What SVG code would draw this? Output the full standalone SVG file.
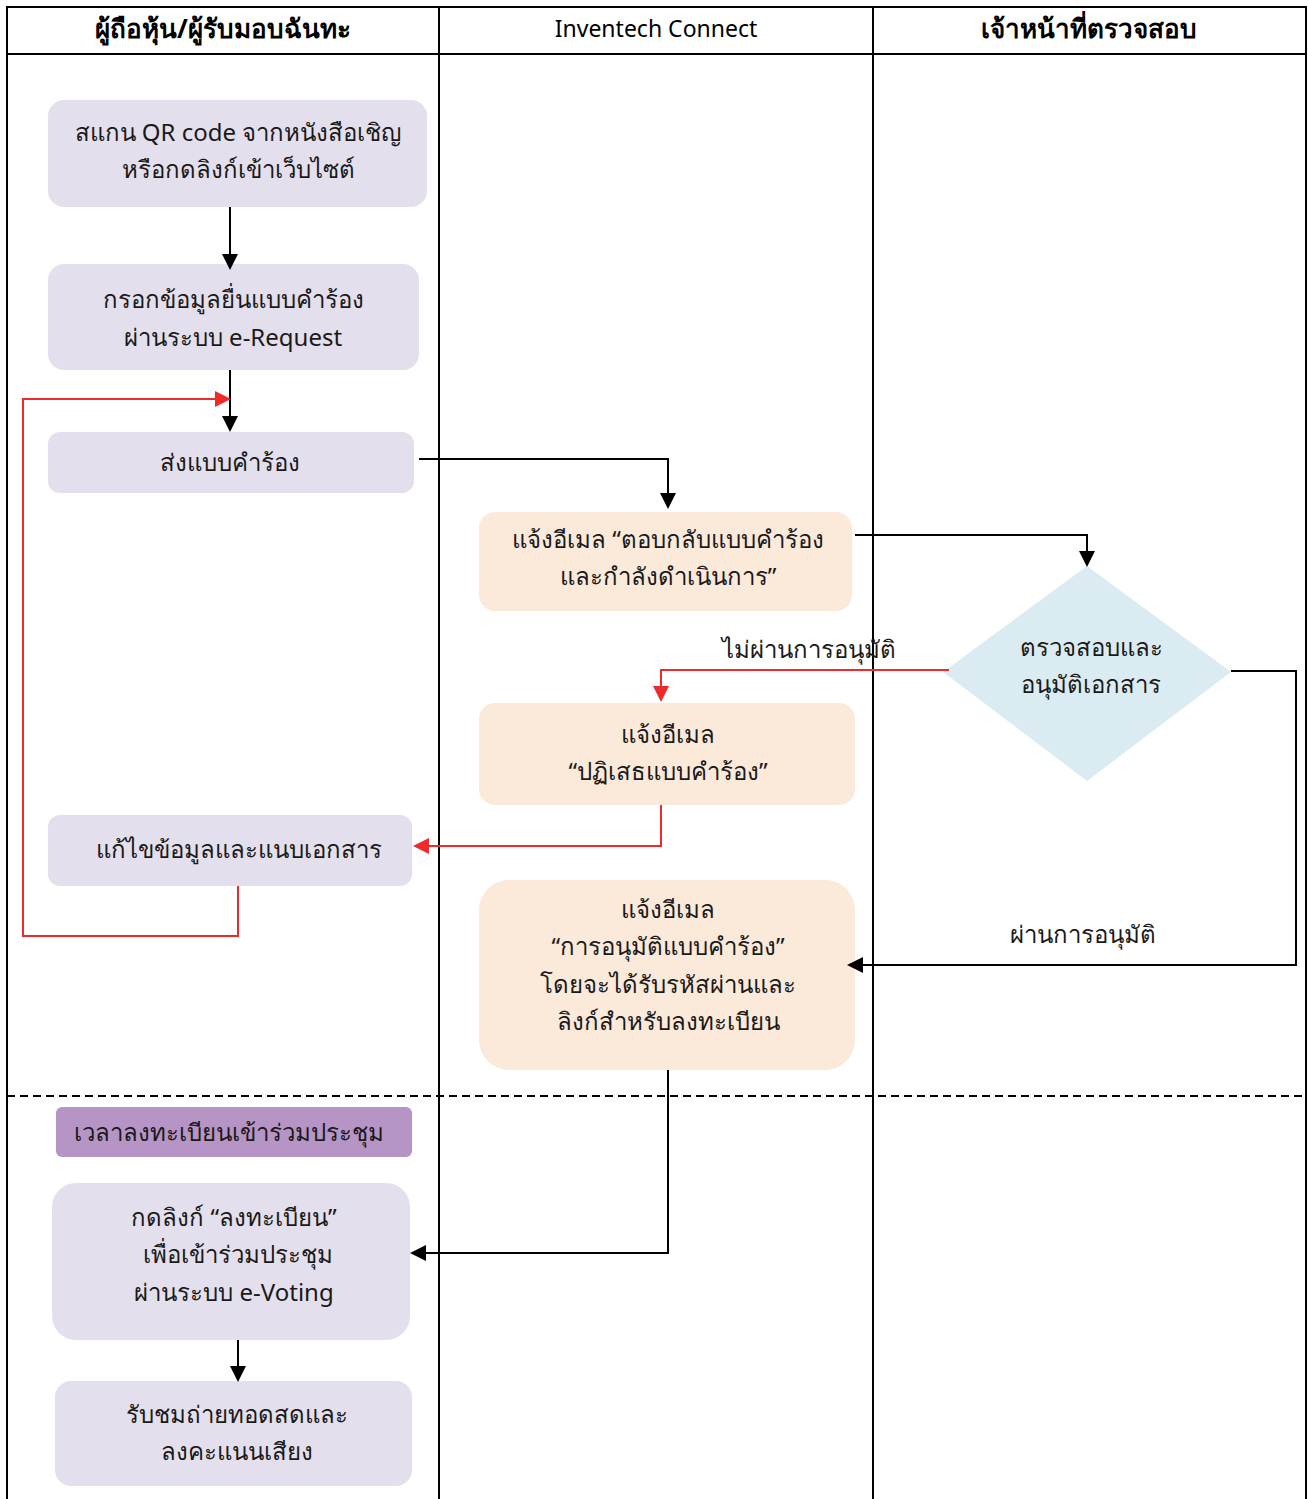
<svg xmlns="http://www.w3.org/2000/svg" width="1308" height="1499" viewBox="0 0 1308 1499">
<style>
text{font-family:"Noto Sans","DejaVu Sans","Liberation Sans",sans-serif;font-size:24px;fill:#1a1a1a;text-anchor:middle;dominant-baseline:middle}
.hd{font-size:26px;font-weight:bold;fill:#000}
.hn{font-size:23px;fill:#000}
.lv{fill:#e4dfec}
.pc{fill:#fbe9da}
.dm{fill:#daecf1}
.pu{fill:#b794c6}
.k{fill:none;stroke:#000;stroke-width:2}
.r{fill:none;stroke:#ee2a2a;stroke-width:2}
.lane{fill:none;stroke:#000;stroke-width:2}
</style>
<defs>
<marker id="ab" markerWidth="16" markerHeight="16" refX="14" refY="8" orient="auto" markerUnits="userSpaceOnUse"><path d="M0,0 L16,8 L0,16 z" fill="#000"/></marker>
<marker id="ar" markerWidth="16" markerHeight="16" refX="14" refY="8" orient="auto" markerUnits="userSpaceOnUse"><path d="M0,0 L16,8 L0,16 z" fill="#ee2a2a"/></marker>
</defs>
<rect width="1308" height="1499" fill="#fff"/>
<g id="lanes">
<rect class="lane" x="7" y="7" width="1299" height="1500"/>
<line class="lane" x1="7" y1="54" x2="1306" y2="54"/>
<line class="lane" x1="439" y1="7" x2="439" y2="1499"/>
<line class="lane" x1="873" y1="7" x2="873" y2="1499"/>
<line x1="7" y1="1096" x2="1306" y2="1096" stroke="#000" stroke-width="2" stroke-dasharray="8,5"/>
<text class="hd" x="223" y="31">ผู้ถือหุ้น/ผู้รับมอบฉันทะ</text>
<text class="hn" x="656" y="31">Inventech Connect</text>
<text class="hd" x="1089" y="31">เจ้าหน้าที่ตรวจสอบ</text>
</g>
<g id="n1"><rect class="lv" x="48" y="100" width="379" height="107" rx="16"/><text x="238" y="135">สแกน QR code จากหนังสือเชิญ</text><text x="238" y="172">หรือกดลิงก์เข้าเว็บไซต์</text></g>
<g id="n2"><rect class="lv" x="48" y="264" width="371" height="106" rx="16"/><text x="233" y="302">กรอกข้อมูลยื่นแบบคำร้อง</text><text x="233" y="340">ผ่านระบบ e-Request</text></g>
<g id="n3"><rect class="lv" x="48" y="432" width="366" height="61" rx="12"/><text x="230" y="465">ส่งแบบคำร้อง</text></g>
<g id="n4"><rect class="lv" x="48" y="815" width="364" height="71" rx="12"/><text x="239" y="852">แก้ไขข้อมูลและแนบเอกสาร</text></g>
<g id="n5"><rect class="pu" x="56" y="1107" width="356" height="50" rx="6"/><text x="229" y="1135">เวลาลงทะเบียนเข้าร่วมประชุม</text></g>
<g id="n6"><rect class="lv" x="52" y="1183" width="358" height="157" rx="24"/><text x="234" y="1220">กดลิงก์ “ลงทะเบียน”</text><text x="238" y="1257">เพื่อเข้าร่วมประชุม</text><text x="234" y="1295">ผ่านระบบ e-Voting</text></g>
<g id="n7"><rect class="lv" x="55" y="1381" width="357" height="105" rx="16"/><text x="237" y="1417">รับชมถ่ายทอดสดและ</text><text x="237" y="1454">ลงคะแนนเสียง</text></g>
<g id="n8"><rect class="pc" x="479" y="512" width="373" height="99" rx="16"/><text x="668" y="542">แจ้งอีเมล “ตอบกลับแบบคำร้อง</text><text x="668" y="579">และกำลังดำเนินการ”</text></g>
<g id="n9"><rect class="pc" x="479" y="703" width="376" height="102" rx="16"/><text x="668" y="737">แจ้งอีเมล</text><text x="668" y="774">“ปฏิเสธแบบคำร้อง”</text></g>
<g id="n10"><rect class="pc" x="479" y="880" width="376" height="190" rx="30"/><text x="668" y="912">แจ้งอีเมล</text><text x="668" y="949">“การอนุมัติแบบคำร้อง”</text><text x="668" y="987">โดยจะได้รับรหัสผ่านและ</text><text x="668" y="1024">ลิงก์สำหรับลงทะเบียน</text></g>
<g id="n11"><polygon class="dm" points="1087,566 1231,672 1087,781 943,672"/><text x="1091" y="650">ตรวจสอบและ</text><text x="1091" y="687">อนุมัติเอกสาร</text></g>
<g id="connectors">
<path class="k" d="M230,207 V268" marker-end="url(#ab)"/>
<path class="k" d="M230,370 V430" marker-end="url(#ab)"/>
<path class="k" d="M419,459 H668 V507" marker-end="url(#ab)"/>
<path class="k" d="M855,535 H1087 V565" marker-end="url(#ab)"/>
<path class="r" d="M949,670 H661 V700" marker-end="url(#ar)"/>
<path class="r" d="M661,805 V846 H415" marker-end="url(#ar)"/>
<path class="r" d="M238,886 V936 H23 V399 H229" marker-end="url(#ar)"/>
<path class="k" d="M1231,671 H1296 V965 H849" marker-end="url(#ab)"/>
<path class="k" d="M668,1070 V1253 H412" marker-end="url(#ab)"/>
<path class="k" d="M238,1340 V1380" marker-end="url(#ab)"/>
<text x="809" y="652">ไม่ผ่านการอนุมัติ</text>
<text x="1083" y="937">ผ่านการอนุมัติ</text>
</g>
</svg>
